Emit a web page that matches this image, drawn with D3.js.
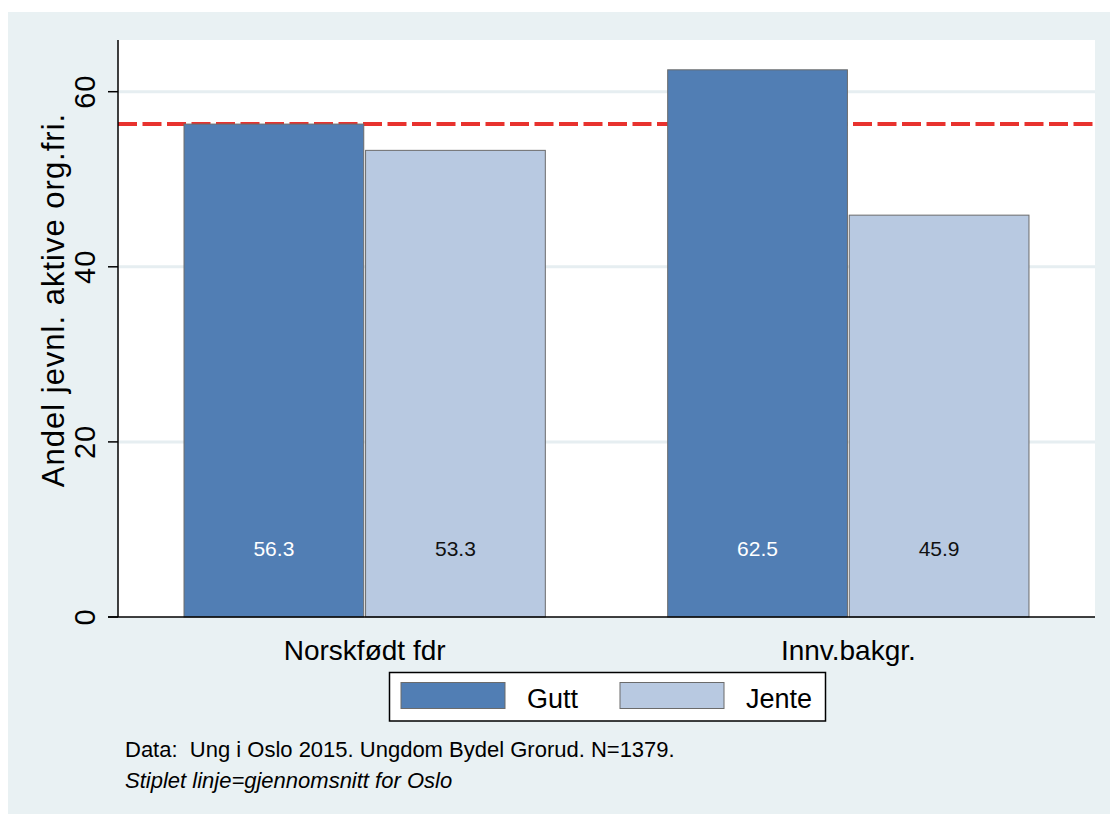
<html>
<head>
<meta charset="utf-8">
<title>Andel jevnl. aktive org.fri.</title>
<script src="https://d3js.org/d3.v7.min.js"></script>
<style>
  body { margin: 0; background: #ffffff; }
  svg text { font-family: "Liberation Sans", Arial, sans-serif; fill: #000; white-space: pre; }
</style>
</head>
<body>
<div id="chart"></div>
<script type="text/javascript">
// data
var categories = ["Norskfødt fdr", "Innv.bakgr."];
var series = ["Gutt", "Jente"];
var gutt = [56.3, 62.5];
var jente = [53.3, 45.9];
var osloAverage = 56.3;
var yTicks = [0, 20, 40, 60];
var notes = ["Data:  Ung i Oslo 2015. Ungdom Bydel Grorud. N=1379.",
             "Stiplet linje=gjennomsnitt for Oslo"];

var colors = {Gutt: "#517eb4", Jente: "#b8c9e1"};
var labelColors = {Gutt: "#ffffff", Jente: "#111111"};

var W = 1110, H = 814;
var plot = {left: 118, right: 1095, top: 40, bottom: 617};

var rows = categories.map(function(c, i) {
    return {cat: c, values: [{s: "Gutt", v: gutt[i]}, {s: "Jente", v: jente[i]}]};
});

var svg = d3.select("#chart").append("svg")
    .attr("width", W)
    .attr("height", H);

// graph region
svg.append("rect")
    .attr("x", 8).attr("y", 12)
    .attr("width", W - 8).attr("height", H - 12)
    .attr("fill", "#e9f1f3");

// plot region
svg.append("rect")
    .attr("x", plot.left).attr("y", plot.top)
    .attr("width", plot.right - plot.left).attr("height", plot.bottom - plot.top)
    .attr("fill", "#ffffff");

// scales
var y = d3.scaleLinear().domain([0, 60]).range([plot.bottom, 91.7]);
var x0 = d3.scaleBand().domain(categories)
    .range([plot.left, plot.right])
    .paddingInner(0.253)
    .paddingOuter(0.1365);
var x1 = d3.scaleBand().domain(series)
    .range([0, x0.bandwidth()])
    .paddingInner(0.01);

// grid lines
svg.append("g").selectAll("line")
    .data(yTicks.filter(function(d) { return d > 0; }))
    .enter().append("line")
    .attr("x1", plot.left).attr("x2", plot.right)
    .attr("y1", function(d) { return y(d); })
    .attr("y2", function(d) { return y(d); })
    .attr("stroke", "#e6eef1")
    .attr("stroke-width", 3);

// dashed Oslo average line (behind the bars)
svg.append("line")
    .attr("x1", plot.left).attr("x2", plot.right)
    .attr("y1", y(osloAverage)).attr("y2", y(osloAverage))
    .attr("stroke", "#e8322e")
    .attr("stroke-width", 4)
    .attr("stroke-dasharray", "19 5.5");

// bars
var groups = svg.append("g").selectAll("g")
    .data(rows)
    .enter().append("g")
    .attr("transform", function(d) { return "translate(" + x0(d.cat) + ",0)"; });

groups.selectAll("rect")
    .data(function(d) { return d.values; })
    .enter().append("rect")
    .attr("x", function(d) { return x1(d.s); })
    .attr("y", function(d) { return y(d.v); })
    .attr("width", x1.bandwidth())
    .attr("height", function(d) { return y(0) - y(d.v); })
    .attr("fill", function(d) { return colors[d.s]; })
    .attr("stroke", "#6b6b6b")
    .attr("stroke-width", 1);

// value labels inside bars
groups.selectAll("text")
    .data(function(d) { return d.values; })
    .enter().append("text")
    .attr("x", function(d) { return x1(d.s) + x1.bandwidth() / 2; })
    .attr("y", 556)
    .attr("text-anchor", "middle")
    .style("font-size", "21px")
    .style("fill", function(d) { return labelColors[d.s]; })
    .text(function(d) { return d.v.toFixed(1); });

// y axis
var yAxis = svg.append("g").attr("transform", "translate(" + plot.left + ",0)");
yAxis.append("line")
    .attr("x1", 0).attr("x2", 0)
    .attr("y1", plot.top).attr("y2", plot.bottom)
    .attr("stroke", "#000").attr("stroke-width", 1.5);
yAxis.selectAll("line.tick")
    .data(yTicks)
    .enter().append("line")
    .attr("class", "tick")
    .attr("x1", -10).attr("x2", 0)
    .attr("y1", function(d) { return y(d); })
    .attr("y2", function(d) { return y(d); })
    .attr("stroke", "#000").attr("stroke-width", 1.5);
yAxis.selectAll("text")
    .data(yTicks)
    .enter().append("text")
    .attr("transform", function(d) { return "translate(-23," + y(d) + ") rotate(-90)"; })
    .attr("text-anchor", "middle")
    .style("font-size", "29px")
    .style("letter-spacing", "1px")
    .text(function(d) { return d; });

// y axis title
svg.append("text")
    .attr("transform", "translate(64,300) rotate(-90)")
    .attr("text-anchor", "middle")
    .style("font-size", "31px")
    .style("letter-spacing", "1px")
    .text("Andel jevnl. aktive org.fri.");

// x axis
svg.append("line")
    .attr("x1", 108).attr("x2", plot.right)
    .attr("y1", plot.bottom).attr("y2", plot.bottom)
    .attr("stroke", "#000").attr("stroke-width", 1.5);
svg.append("g").selectAll("text")
    .data(categories)
    .enter().append("text")
    .attr("x", function(d) { return x0(d) + x0.bandwidth() / 2; })
    .attr("y", 660)
    .attr("text-anchor", "middle")
    .style("font-size", "28px")
    .text(function(d) { return d; });

// legend
var legend = svg.append("g");
legend.append("rect")
    .attr("x", 389.5).attr("y", 672.5)
    .attr("width", 436).attr("height", 48.5)
    .attr("fill", "#ffffff")
    .attr("stroke", "#000").attr("stroke-width", 1.5);
var legendX = [401, 620];
var items = legend.selectAll("g.item")
    .data(series)
    .enter().append("g")
    .attr("class", "item")
    .attr("transform", function(d, i) { return "translate(" + legendX[i] + ",0)"; });
items.append("rect")
    .attr("x", 0).attr("y", 682.5)
    .attr("width", 104).attr("height", 26)
    .attr("fill", function(d) { return colors[d]; })
    .attr("stroke", "#6b6b6b").attr("stroke-width", 1);
items.append("text")
    .attr("x", 126).attr("y", 708)
    .style("font-size", "27px")
    .text(function(d) { return d; });

// notes
svg.append("text")
    .attr("x", 125).attr("y", 757)
    .style("font-size", "22px")
    .text(notes[0]);
svg.append("text")
    .attr("x", 125).attr("y", 788)
    .style("font-size", "22px")
    .style("font-style", "italic")
    .text(notes[1]);
</script>
</body>
</html>
